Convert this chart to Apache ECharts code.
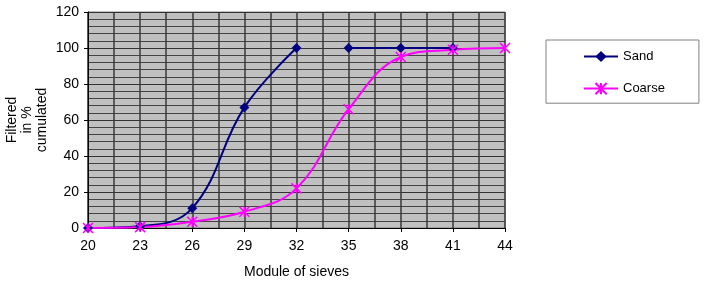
<!DOCTYPE html>
<html>
<head>
<meta charset="utf-8">
<script src="https://cdn.jsdelivr.net/npm/echarts@6/dist/echarts.min.js"></script>
<style>html,body{margin:0;padding:0;background:#fff}#c{width:706px;height:283px}</style>
</head>
<body>
<div id="c"></div>
<script>
const sieves = [20, 23, 26, 29, 32, 35, 38, 41, 44];
const sand = [0, 1, 11, 67, 100, 100, 100, 100, null];
const coarse = [0, 0.5, 3.5, 9, 22, 66, 95, 99, 100];
const sandBreakAfter = 4; // no line drawn between 32 and 35

const sandA = [], sandB = [];
sieves.forEach((x, i) => {
  if (sand[i] == null) return;
  (i <= sandBreakAfter ? sandA : sandB).push([x, sand[i]]);
});
const coarseData = sieves.map((x, i) => [x, coarse[i]]);

const font = 'Liberation Sans, Arial, sans-serif';
const chart = echarts.init(document.getElementById('c'));
const starPath = 'path://M0,0L10,10M10,0L0,10M5,0L5,10';
chart.setOption({
  animation: false,
  textStyle: { fontFamily: font, color: '#000' },
  grid: { left: 88, right: 201, top: 12, bottom: 55, show: true, backgroundColor: '#c0c0c0', borderColor: '#808080', borderWidth: 1, containLabel: false, outerBoundsMode: 'none' },
  legend: {
    orient: 'vertical', left: 546, top: 40,
    padding: [10, 34, 8, 37],
    itemWidth: 34, itemHeight: 14, itemGap: 19,
    borderColor: '#808080', borderWidth: 1,
    textStyle: { fontFamily: font, fontSize: 13, color: '#000' },
    data: ['Sand', 'Coarse']
  },
  xAxis: {
    type: 'value', min: 20, max: 44, interval: 3,
    name: 'Module of sieves', nameLocation: 'middle', nameGap: 37, nameMoveOverlap: false,
    nameTextStyle: { fontFamily: font, fontSize: 14, color: '#000' },
    axisLine: { show: true, lineStyle: { color: '#000', width: 1 } },
    axisTick: { show: true, length: 4, lineStyle: { color: '#000' } },
    axisLabel: { fontFamily: font, fontSize: 14, color: '#000', margin: 11 },
    splitLine: { show: true, lineStyle: { color: '#3a3a3a', width: 1.5 } },
    minorTick: { show: false, splitNumber: 2 },
    minorSplitLine: { show: true, lineStyle: { color: '#3a3a3a', width: 1.5 } }
  },
  yAxis: {
    type: 'value', min: 0, max: 120, interval: 20,
    name: 'Filtered\nin %\ncumulated', nameLocation: 'middle', nameGap: 38, nameMoveOverlap: false,
    nameTextStyle: { fontFamily: font, fontSize: 14, color: '#000', lineHeight: 15 },
    axisLine: { show: true, lineStyle: { color: '#000', width: 1 } },
    axisTick: { show: true, length: 4, lineStyle: { color: '#000' } },
    axisLabel: { fontFamily: font, fontSize: 14, color: '#000', margin: 9 },
    splitLine: { show: true, lineStyle: { color: '#333', width: 1 } },
    minorTick: { show: false, splitNumber: 5 },
    minorSplitLine: { show: true, lineStyle: { color: '#444', width: 1 } }
  },
  series: [
    {
      name: 'Sand', type: 'line', data: sandA, smooth: 0.4,
      symbol: 'diamond', symbolSize: 10,
      lineStyle: { color: '#000080', width: 2 },
      itemStyle: { color: '#000080' }
    },
    {
      name: 'Sand', type: 'line', data: sandB, smooth: 0.4,
      symbol: 'diamond', symbolSize: 10,
      lineStyle: { color: '#000080', width: 2 },
      itemStyle: { color: '#000080' }
    },
    {
      name: 'Coarse', type: 'line', data: coarseData, smooth: 0.4,
      symbol: starPath, symbolSize: 10,
      lineStyle: { color: '#ff00ff', width: 2 },
      itemStyle: { color: '#ff00ff', borderColor: '#ff00ff', borderWidth: 1.5 }
    }
  ]
});
</script>
</body>
</html>
